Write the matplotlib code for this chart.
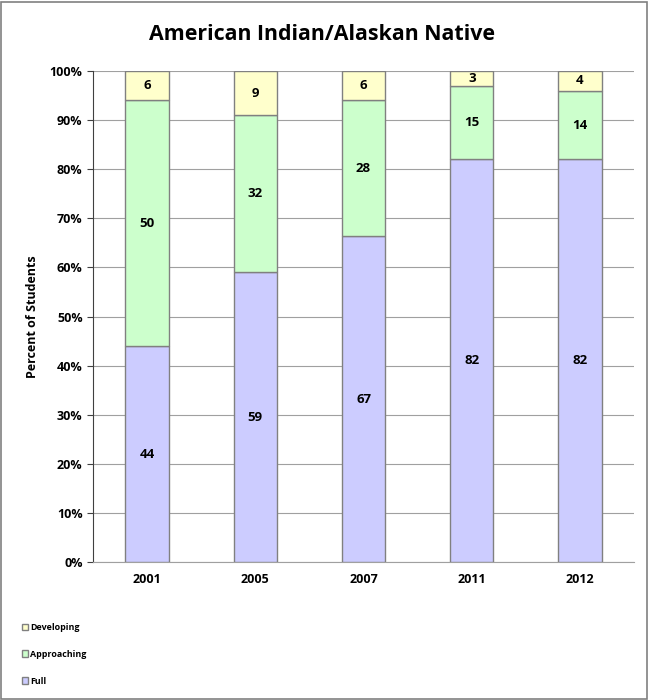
import matplotlib
matplotlib.use("Agg")
import matplotlib.pyplot as plt
import numpy as np
from matplotlib.patches import Rectangle

plt.rcParams['font.family'] = ['Open Sans', 'DejaVu Sans']

years = ["2001", "2005", "2007", "2011", "2012"]
full = [44, 59, 67, 82, 82]
approaching = [50, 32, 28, 15, 14]
developing = [6, 9, 6, 3, 4]
series_names = ["Full", "Approaching", "Developing"]
colors = ["#CCCCFF", "#CCFFCC", "#FFFFCC"]

data = np.array([full, approaching, developing], dtype=float)
totals = data.sum(axis=0)
pct = data / totals * 100

fig = plt.figure(figsize=(6.49, 7.0), dpi=100)
fig.patches.append(Rectangle((0.002, 0.002), 0.995, 0.995, transform=fig.transFigure,
                             fill=False, edgecolor="#808080", linewidth=1.2))
ax = fig.add_axes([0.1433, 0.197, 0.8337, 0.7016])

x = np.arange(len(years))
bottom = np.zeros(len(years))
for i, (name, col) in enumerate(zip(series_names, colors)):
    ax.bar(x, pct[i], 0.4, bottom=bottom, color=col, edgecolor="#808080",
           linewidth=1.0, label=name, zorder=3)
    for j in range(len(years)):
        ax.text(x[j], bottom[j] + pct[i][j] / 2, str(int(data[i][j])), ha="center",
                va="center", fontsize=9.5, fontweight="bold", zorder=4)
    bottom += pct[i]

ax.set_xlim(-0.5, len(years) - 0.5)
ax.set_ylim(0, 100)
ax.set_yticks(np.arange(0, 101, 10))
ax.set_yticklabels([f"{v}%" for v in range(0, 101, 10)], fontsize=9, fontweight="bold")
ax.set_xticks(x)
ax.set_xticklabels(years, fontsize=9, fontweight="bold")
ax.tick_params(axis="x", length=0, pad=8)
ax.tick_params(axis="y", direction="out", length=4, color="#404040")
ax.grid(axis="y", color="#A0A0A0", linewidth=0.8, zorder=0)
for s in ["top", "right"]:
    ax.spines[s].set_visible(False)
ax.spines["left"].set_color("#404040")
ax.spines["bottom"].set_color("#A0A0A0")
ax.set_ylabel("Percent of Students", fontsize=9, fontweight="bold", labelpad=8)

fig.text(0.496, 0.951, "American Indian/Alaskan Native", ha="center", va="center",
         fontsize=15.4, fontweight="bold")

handles = [Rectangle((0, 0), 1, 1, facecolor=c, edgecolor="#808080") for c in colors[::-1]]
leg = fig.legend(handles, series_names[::-1], loc="upper left", bbox_to_anchor=(0.028, 0.115),
                 frameon=False, prop={"size": 6.4, "weight": "bold"}, handlelength=0.75,
                 handleheight=0.75, handletextpad=0.2, labelspacing=2.0, borderaxespad=0)

fig.savefig("out.png", dpi=100)
